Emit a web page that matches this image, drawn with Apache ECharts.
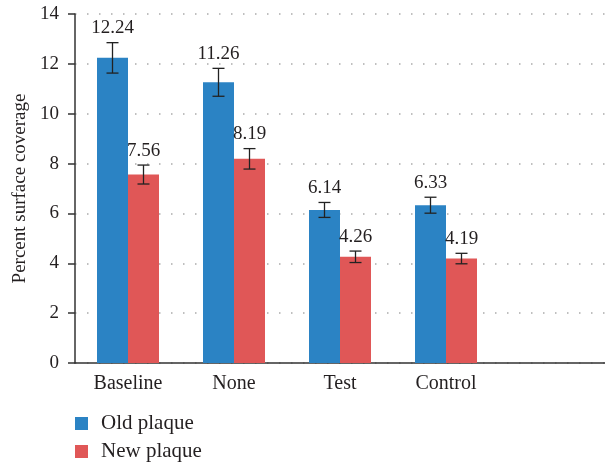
<!DOCTYPE html>
<html><head><meta charset="utf-8">
<script src="https://cdn.jsdelivr.net/npm/echarts@6/dist/echarts.min.js"></script>
<style>html,body{margin:0;padding:0;background:#fff}#c{width:605px;height:465px}</style>
</head><body><div id="c"></div>
<script>
const categories = ['Baseline', 'None', 'Test', 'Control', ''];
const oldPlaque = [12.24, 11.26, 6.14, 6.33];
const newPlaque = [7.56, 8.19, 4.26, 4.19];
const oldErr = [0.61, 0.56, 0.30, 0.32];
const newErr = [0.38, 0.41, 0.23, 0.21];
const yTicks = [0, 2, 4, 6, 8, 10, 12, 14];

const FONT = '"Liberation Serif", "DejaVu Serif", serif';
const TXT = '#231f20';
const BLUE = '#2b83c4';
const RED = '#e05757';
const BAR_W = 31;

function errData(vals, errs) {
  return vals.map((v, i) => [i, v - errs[i], v + errs[i], v]);
}
function errSeries(name, vals, errs, side) {
  return {
    type: 'custom', name: name + ' err', z: 10,
    data: errData(vals, errs),
    renderItem: function (params, api) {
      const i = api.value(0);
      const lo = api.coord([i, api.value(1)]);
      const hi = api.coord([i, api.value(2)]);
      const x = lo[0] + side * BAR_W / 2;
      const cap = 6;
      const st = { stroke: '#222', lineWidth: 1.3 };
      return {
        type: 'group',
        children: [
          { type: 'line', shape: { x1: x, y1: lo[1], x2: x, y2: hi[1] }, style: st },
          { type: 'line', shape: { x1: x - cap, y1: lo[1], x2: x + cap, y2: lo[1] }, style: st },
          { type: 'line', shape: { x1: x - cap, y1: hi[1], x2: x + cap, y2: hi[1] }, style: st },
          { type: 'text', x: x, y: hi[1] - 5,
            style: { text: api.value(3).toFixed(2), fill: TXT, font: '19px ' + FONT,
                     textAlign: 'center', textVerticalAlign: 'bottom' } }
        ]
      };
    }
  };
}

const legendBase = {
  left: 70, itemWidth: 13, itemHeight: 13, icon: 'rect',
  textStyle: { fontFamily: FONT, fontSize: 21, color: TXT, padding: [0, 0, 0, 8] }
};

const chart = echarts.init(document.getElementById('c'), null, { renderer: 'canvas' });
chart.setOption({
  animation: false,
  backgroundColor: '#fff',
  grid: { left: 75, top: 14, bottom: 102, width: 537 },
  legend: [
    Object.assign({ data: ['Old plaque'], top: 408 }, legendBase),
    Object.assign({ data: ['New plaque'], top: 436 }, legendBase)
  ],
  xAxis: {
    type: 'category', data: categories,
    axisLine: { lineStyle: { color: '#333', width: 1.5 } },
    axisTick: { length: 7, lineStyle: { color: '#333', width: 1.5 } },
    axisLabel: { fontFamily: FONT, fontSize: 20, color: TXT, margin: 11 }
  },
  yAxis: {
    type: 'value', min: yTicks[0], max: yTicks[yTicks.length - 1], interval: 2,
    name: 'Percent surface coverage', nameLocation: 'middle', nameGap: 44,
    nameTextStyle: { fontFamily: FONT, fontSize: 19, color: TXT },
    axisLine: { show: true, lineStyle: { color: '#333', width: 1.5 } },
    axisTick: { show: true, length: 7, lineStyle: { color: '#333', width: 1.5 } },
    axisLabel: { fontFamily: FONT, fontSize: 19, color: TXT, margin: 16 },
    splitLine: { show: true, lineStyle: { color: '#aaa', width: 1.5, type: [1.5, 10.5] } }
  },
  series: [
    { name: 'Old plaque', type: 'bar', data: oldPlaque, barWidth: BAR_W, barGap: '0%',
      itemStyle: { color: BLUE } },
    { name: 'New plaque', type: 'bar', data: newPlaque, barWidth: BAR_W, barGap: '0%',
      itemStyle: { color: RED } },
    errSeries('Old plaque', oldPlaque, oldErr, -1),
    errSeries('New plaque', newPlaque, newErr, 1)
  ]
});
</script></body></html>
